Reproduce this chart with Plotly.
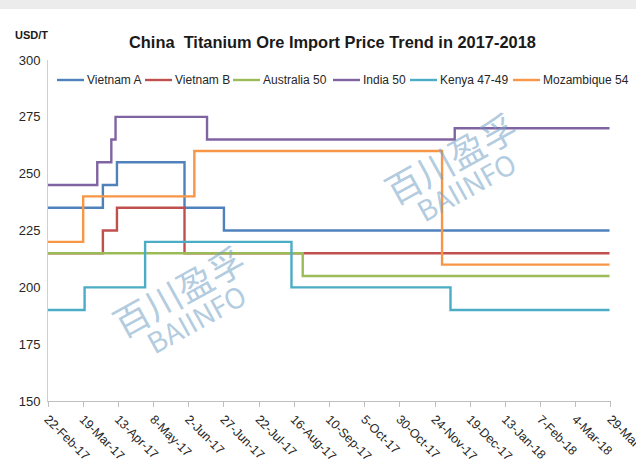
import plotly.graph_objects as go

# ---------------- data ----------------
series_names = ["Vietnam A", "Vietnam B", "Australia 50", "India 50", "Kenya 47-49", "Mozambique 54"]
series_colors = ["#4F81BD", "#C0504D", "#9BBB59", "#8064A2", "#4BACC6", "#F79646"]

vietnam_a_dates = ["2017-02-22", "2017-04-02", "2017-04-12", "2017-05-30", "2017-06-27", "2018-03-28"]
vietnam_a_values = [235, 245, 255, 235, 225, 225]

vietnam_b_dates = ["2017-02-22", "2017-04-02", "2017-04-12", "2017-05-30", "2018-03-28"]
vietnam_b_values = [215, 225, 235, 215, 215]

australia_dates = ["2017-02-22", "2017-08-22", "2018-03-28"]
australia_values = [215, 205, 205]

india_dates = ["2017-02-22", "2017-03-29", "2017-04-08", "2017-04-11", "2017-06-15", "2017-12-08", "2018-03-28"]
india_values = [245, 255, 265, 275, 265, 270, 270]

kenya_dates = ["2017-02-22", "2017-03-20", "2017-05-02", "2017-08-14", "2017-12-05", "2018-03-28"]
kenya_values = [190, 200, 220, 200, 190, 190]

mozambique_dates = ["2017-02-22", "2017-03-19", "2017-06-06", "2017-11-29", "2018-03-28"]
mozambique_values = [220, 240, 260, 210, 210]

all_dates = [vietnam_a_dates, vietnam_b_dates, australia_dates, india_dates, kenya_dates, mozambique_dates]
all_values = [vietnam_a_values, vietnam_b_values, australia_values, india_values, kenya_values, mozambique_values]

title_text = "China\u00a0 Titanium Ore Import Price Trend in 2017-2018"
unit_text = "USD/T"
x_start, x_end = "2017-02-22", "2018-03-29 01:00"
y_ticks = [150, 175, 200, 225, 250, 275, 300]

# ---------------- layout helpers ----------------
W, H = 636, 476
L, R, T, B = 48, 25, 60, 75
PW, PH = W - L - R, H - T - B


def px(x):
    return (x - L) / PW


def py(y):
    return (H - B - y) / PH


fig = go.Figure()
for name, color, d, v in zip(series_names, series_colors, all_dates, all_values):
    fig.add_trace(go.Scatter(x=d, y=v, name=name, mode="lines", line_shape="hv",
                             line=dict(color=color, width=2.4), showlegend=False,
                             hoverinfo="x+y+name"))

font = "Liberation Sans, Arial, sans-serif"
annotations = []
shapes = []

# Title and unit
annotations.append(dict(text="<b>" + title_text + "</b>", x=px(332), y=py(42), xref="paper", yref="paper",
                        showarrow=False, xanchor="center", yanchor="middle",
                        font=dict(family=font, size=16.4, color="#1a1a1a")))
annotations.append(dict(text="<b>" + unit_text + "</b>", x=px(13), y=py(35), xref="paper", yref="paper",
                        showarrow=False, xanchor="left", yanchor="middle",
                        font=dict(family=font, size=11, color="#1a1a1a")))

# Manual compact legend in one row (line sample + label), laid out by estimated text widths
text_widths = [55, 55, 67, 44, 70, 86]
lx = 57
for name, color, tw in zip(series_names, series_colors, text_widths):
    shapes.append(dict(type="line", xref="paper", yref="paper", x0=px(lx), x1=px(lx + 27),
                       y0=py(80), y1=py(80), line=dict(color=color, width=2.4)))
    annotations.append(dict(text=name, x=px(lx + 28), y=py(80.5), xref="paper", yref="paper",
                            showarrow=False, xanchor="left", yanchor="middle",
                            font=dict(family=font, size=12, color="#262626")))
    lx += 27 + 2 + tw + 4

# Watermarks
wm_color = "rgba(120,165,200,0.58)"
cjk = "Noto Sans CJK SC"
for cx, cy, bx, by in [(450, 157, 466, 186), (178, 290, 196, 318)]:
    annotations.append(dict(text="百川盈孚", x=px(cx), y=py(cy), xref="paper", yref="paper",
                            showarrow=False, textangle=-29, xanchor="center", yanchor="middle",
                            font=dict(family=cjk, size=36, color=wm_color)))
    annotations.append(dict(text="BAIINFO", x=px(bx), y=py(by), xref="paper", yref="paper",
                            showarrow=False, textangle=-29, xanchor="center", yanchor="middle",
                            font=dict(family=cjk, size=28, color=wm_color)))

# top gray strip
shapes.append(dict(type="rect", xref="paper", yref="paper", x0=px(0), x1=px(W), y0=py(9), y1=py(0),
                   fillcolor="#ececec", line=dict(width=0), layer="above"))

fig.update_layout(
    width=W, height=H,
    margin=dict(l=L, r=R, t=T, b=B, autoexpand=False),
    paper_bgcolor="white", plot_bgcolor="white",
    font=dict(family=font, size=13, color="#262626"),
    annotations=annotations, shapes=shapes,
    showlegend=False,
    xaxis=dict(type="date", range=[x_start, x_end], tick0="2017-02-22", dtick=25 * 86400000,
               tickformat="%-d-%b-%y", tickangle=45, showgrid=False, zeroline=False,
               showline=True, linecolor="#bfbfbf", linewidth=1, ticks="outside", ticklen=5,
               tickcolor="#bfbfbf", tickfont=dict(size=12.5, color="#262626"),
               ticklabeloverflow="allow", automargin=False),
    yaxis=dict(range=[150, 300], tickvals=y_ticks, showgrid=False, zeroline=False,
               showline=True, linecolor="#d0d0d0", linewidth=1, ticks="",
               ticklabelstandoff=4, automargin=False,
               tickfont=dict(size=13, color="#262626")),
)

fig.write_html("out.html", config={"displayModeBar": False},
               post_script="document.body.style.margin='0';document.body.style.overflow='hidden';")
